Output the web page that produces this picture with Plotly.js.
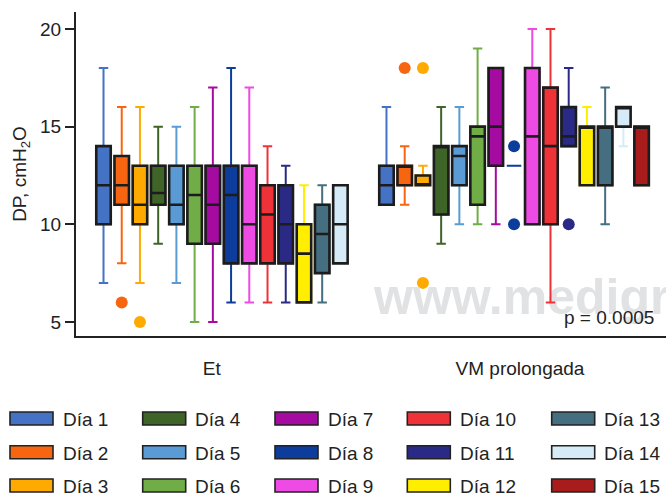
<!DOCTYPE html>
<html><head><meta charset="utf-8">
<script src="https://cdn.plot.ly/plotly-3.0.1.min.js"></script>
<style>html,body{margin:0;padding:0;background:#fff}#chart{width:666px;height:496px}</style>
</head><body><div id="chart"></div>
<script>
const groups = ['Et', 'VM prolongada'];
const days = ['Día 1','Día 2','Día 3','Día 4','Día 5','Día 6','Día 7','Día 8','Día 9','Día 10','Día 11','Día 12','Día 13','Día 14','Día 15'];
const colors = ['#4472C4','#F86510','#FFAA00','#3F6428','#5B9BD5','#70AD47','#A50BA0','#0D3D9C','#EE4BE4','#EF3238','#2A2A86','#FFEE00','#456F80','#D5ECF8','#A81C1C'];

// Et
const etLow  = [7, 8, 7, 9, 7, 5, 5, 6, 6, 6, 6, 6, 6, 8, null];
const etQ1   = [10, 11, 10, 11, 10, 9, 9, 8, 8, 8, 8, 6, 7.5, 8, null];
const etMed  = [12, 12, 11, 11.6, 11, 11.5, 11, 11.5, 10, 10.5, 10, 8.5, 9.5, 10, null];
const etQ3   = [14, 13.5, 13, 13, 13, 13, 13, 13, 13, 12, 12, 10, 11, 12, null];
const etHigh = [18, 16, 16, 15, 15, 16, 17, 18, 17, 14, 13, 12, 12, 12, null];

// VM prolongada
const vmLow  = [11, 11, 12, 9, 10, 10, 10, 13, 10, 6, 14, 12, 10, 14, 12];
const vmQ1   = [11, 12, 12, 10.5, 12, 11, 13, 13, 10, 10, 14, 12, 12, 15, 12];
const vmMed  = [12, 13, 12, 14, 13.5, 14.5, 15, 13, 14.5, 14, 14.5, 15, 15, 16, 15];
const vmQ3   = [13, 13, 12.5, 14, 14, 15, 18, 13, 18, 17, 16, 15, 15, 16, 15];
const vmHigh = [16, 14, 13, 16, 16, 19, 18, 13, 20, 20, 18, 16, 17, 16, 15];

// outliers (group index, day index, value)
const outGroup = [0, 0, 1, 1, 1, 1, 1, 1];
const outDay   = [1, 2, 1, 2, 2, 7, 7, 10];
const outValue = [6, 5, 18, 18, 7, 14, 10, 10];

const pValue = 'p = 0.0005';

// ---- layout helpers ----
const STEP = 0.0644, BOXW = 0.0512;
const pos = (g, d) => g + (d - 7) * STEP;
const L = 76, R = 666, T = 12, B = 336;
const px = v => (v - L) / (R - L);
const py = v => (B - v) / (B - T);

const stats = [
  {low: etLow, q1: etQ1, med: etMed, q3: etQ3, high: etHigh},
  {low: vmLow, q1: vmQ1, med: vmMed, q3: vmQ3, high: vmHigh}
];

const traces = [];
days.forEach((day, d) => {
  const a = {x: [], low: [], q1: [], med: [], q3: [], high: []};
  const b = {x: [], q1: [], med: [], q3: []};
  stats.forEach((s, g) => {
    if (s.q1[d] === null) return;
    a.x.push(pos(g, d)); a.low.push(s.low[d]); a.q1.push(s.q1[d]);
    a.med.push(s.med[d]); a.q3.push(s.q3[d]); a.high.push(s.high[d]);
    if (s.q3[d] > s.q1[d]) {
      b.x.push(pos(g, d)); b.q1.push(s.q1[d]); b.med.push(s.med[d]); b.q3.push(s.q3[d]);
    }
  });
  traces.push({
    type: 'box', name: day, x: a.x, q1: a.q1, median: a.med, q3: a.q3,
    lowerfence: a.low, upperfence: a.high, width: BOXW, whiskerwidth: 0.65,
    line: {color: colors[d], width: 2}, fillcolor: 'rgba(0,0,0,0)', hoverinfo: 'skip'
  });
  if (b.x.length) traces.push({
    type: 'box', name: day, x: b.x, q1: b.q1, median: b.med, q3: b.q3,
    lowerfence: b.q1, upperfence: b.q3, width: BOXW, whiskerwidth: 0,
    line: {color: '#1c1c1c', width: 2.6}, fillcolor: colors[d], hoverinfo: 'skip'
  });
});

traces.push({
  type: 'scatter', mode: 'markers',
  x: outValue.map((v, i) => pos(outGroup[i], outDay[i])),
  y: outValue,
  marker: {size: 12, color: outDay.map(d => colors[d])},
  hoverinfo: 'skip'
});

// custom legend
const legColX = [10, 142.7, 275, 407.3, 551.7];
const legRowY = [418.5, 452.3, 485.5];
const shapes = [{
  type: 'rect', xref: 'paper', yref: 'paper', layer: 'below',
  x0: px(371), x1: px(1100), y0: py(318), y1: py(266),
  line: {width: 0}, fillcolor: 'rgba(0,0,0,0)',
  label: {text: 'www.medigraphic.com', textposition: 'middle left', padding: 0,
          font: {size: 50, color: '#e1e2e4', weight: 'bold', family: 'Liberation Sans, Arial, sans-serif'}}
}];
const annotations = [{
  xref: 'paper', yref: 'paper', x: px(656), y: py(317), xanchor: 'right', yanchor: 'middle',
  text: pValue, showarrow: false, font: {size: 19, color: '#222'}
}];
days.forEach((day, i) => {
  const cx = legColX[Math.floor(i / 3)], cy = legRowY[i % 3];
  shapes.push({
    type: 'rect', xref: 'paper', yref: 'paper',
    x0: px(cx), x1: px(cx + 43), y0: py(cy + 6.5), y1: py(cy - 6.5),
    line: {color: '#222', width: 1.6}, fillcolor: colors[i]
  });
  annotations.push({
    xref: 'paper', yref: 'paper', x: px(cx + 50.5), y: py(cy + 1), xanchor: 'left', yanchor: 'middle',
    text: day, showarrow: false, font: {size: 19, color: '#222'}
  });
});

const layout = {
  width: 666, height: 496,
  margin: {l: L, r: 666 - R, t: T, b: 496 - B},
  paper_bgcolor: '#fff', plot_bgcolor: '#fff',
  showlegend: false, boxmode: 'overlay',
  font: {family: 'Liberation Sans, Arial, sans-serif', size: 19, color: '#222'},
  xaxis: {
    range: [-0.548, 1.537], showline: true, linewidth: 2, linecolor: '#222',
    ticks: '', tickvals: [-0.068, 1.021], ticktext: groups, ticklabelstandoff: 14,
    showgrid: false, zeroline: false, tickfont: {size: 19}
  },
  yaxis: {
    range: [4.28, 20.87], tickvals: [5, 10, 15, 20], ticks: 'outside', ticklen: 9,
    tickwidth: 2, tickcolor: '#222', showline: true, linewidth: 2, linecolor: '#222',
    showgrid: false, zeroline: false, tickfont: {size: 19},
    title: {text: 'DP, cmH<sub>2</sub>O', font: {size: 19}, standoff: 8}
  },
  shapes: shapes, annotations: annotations
};

Plotly.newPlot('chart', traces, layout, {displayModeBar: false, staticPlot: true});
</script>
</body></html>
